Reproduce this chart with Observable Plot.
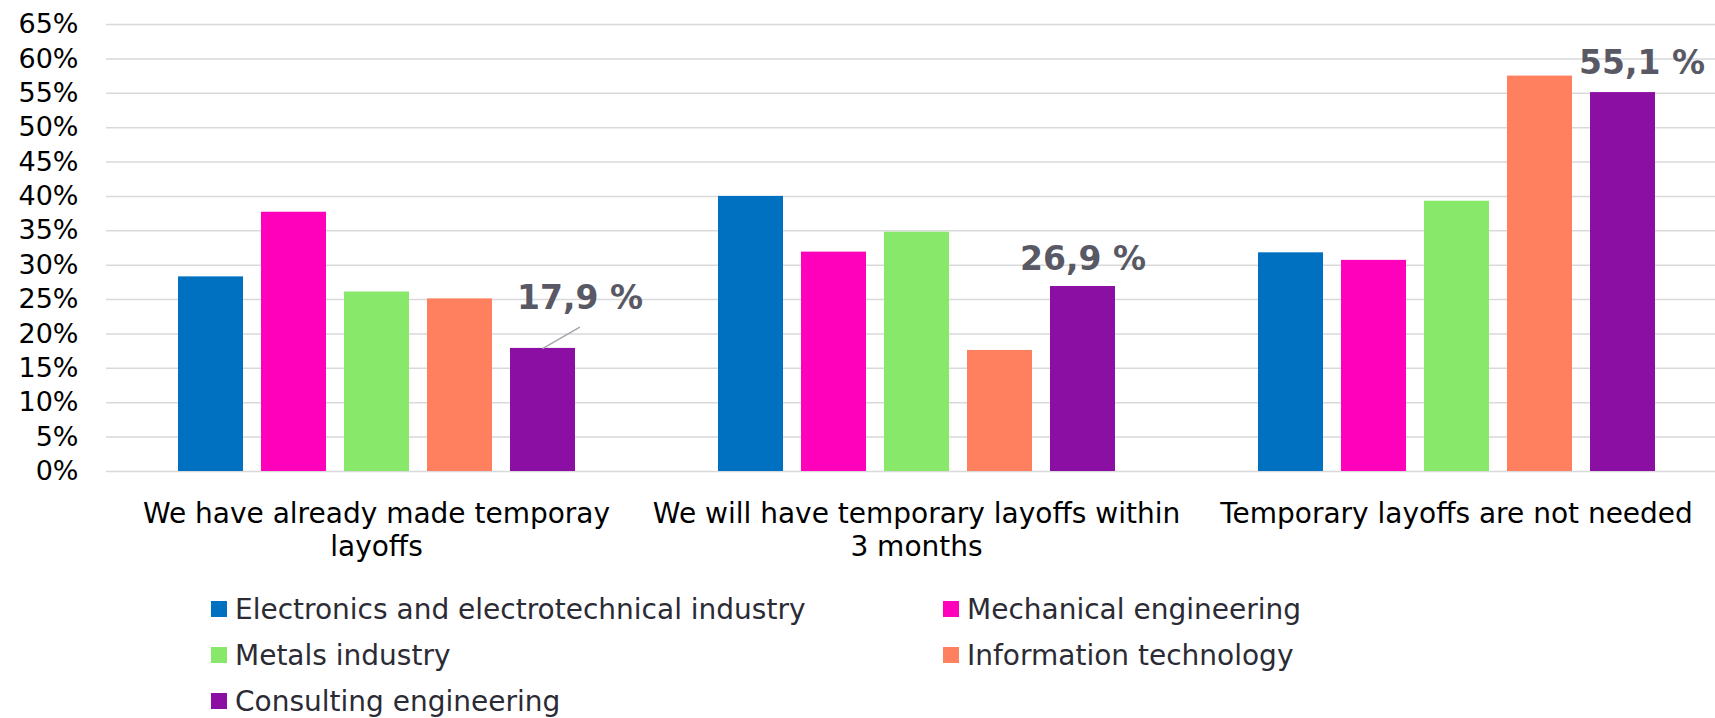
<!DOCTYPE html>
<html>
<head>
<meta charset="utf-8">
<script src="https://cdn.jsdelivr.net/npm/d3@7"></script>
<script src="https://cdn.jsdelivr.net/npm/@observablehq/plot@0.6"></script>
<style>
  html, body { margin: 0; padding: 0; background: #fff; overflow: hidden; }
  #legend { position: relative; width: 1715px; height: 148px; font-family: "DejaVu Sans", Verdana, sans-serif; font-size: 28px; color: #2b2b35; }
  .item { position: absolute; display: flex; align-items: center; height: 46px; white-space: nowrap; }
  .sw { width: 16px; height: 16px; margin-right: 8px; flex: none; }
</style>
</head>
<body>
<div id="chart"></div>
<div id="legend"></div>
<script>
// ---- data ----
const categories = [
  "We have already made temporay layoffs",
  "We will have temporary layoffs within 3 months",
  "Temporary layoffs are not needed"
];
const categoryLabels = [
  "We have already made temporay\nlayoffs",
  "We will have temporary layoffs within\n3 months",
  "Temporary layoffs are not needed"
];
const series = [
  "Electronics and electrotechnical industry",
  "Mechanical engineering",
  "Metals industry",
  "Information technology",
  "Consulting engineering"
];
const colors = ["#0070c0", "#ff00bb", "#88e86a", "#ff805e", "#8b0fa3"];
const electronics = [28.3, 40.0, 31.8];
const mechanical  = [37.7, 31.9, 30.7];
const metals      = [26.1, 34.8, 39.3];
const infotech    = [25.1, 17.6, 57.5];
const consulting  = [17.9, 26.9, 55.1];
const yTicks = [0, 5, 10, 15, 20, 25, 30, 35, 40, 45, 50, 55, 60, 65];

// ---- table ----
const seriesValues = [electronics, mechanical, metals, infotech, consulting];
const rows = [];
categories.forEach((c, ci) => {
  series.forEach((s, si) => rows.push({category: c, series: s, value: seriesValues[si][ci]}));
});
const labelled = rows.filter(d => d.series === "Consulting engineering");
const fmt = d => d.value.toFixed(1).replace(".", ",") + " %";
const labelStyle = {fx: "category", x: "series", y: "value", text: fmt, textAnchor: "middle", lineAnchor: "bottom",
  fontSize: 33, fontWeight: "bold", fill: "#595965"};

const chart = Plot.plot({
  width: 1715,
  height: 570,
  marginTop: 24,
  marginBottom: 99,
  marginLeft: 104,
  marginRight: 0,
  style: {fontFamily: '"DejaVu Sans", Verdana, sans-serif', fontSize: "27px", color: "#000", background: "#fff"},
  fx: {domain: categories, range: [104.3, 1726.7], padding: 0, axis: null, label: null},
  x: {domain: series, paddingInner: 0.2188, paddingOuter: 0.859, axis: null, label: null},
  y: {domain: [0, 65], ticks: yTicks, tickFormat: d => d + "%", tickSize: 0, tickPadding: 28, label: null},
  color: {domain: series, range: colors},
  marks: [
    Plot.ruleY(yTicks, {stroke: "#d9d9dc", strokeWidth: 1.5}),
    Plot.barY(rows, {fx: "category", x: "series", y: "value", fill: "series"}),
    Plot.vector(labelled.filter(d => d.category === categories[0]), {
      fx: "category", x: "series", y: "value", length: 42, rotate: 60, anchor: "start",
      stroke: "#a6a6b0", strokeWidth: 1.5,
      shape: {draw(ctx, l) { ctx.moveTo(0, 0); ctx.lineTo(0, -l); }}
    }),
    Plot.text(labelled.filter(d => d.category === categories[0]), {...labelStyle, dx: 37, dy: -39}),
    Plot.text(labelled.filter(d => d.category === categories[1]), {...labelStyle, dx: 0, dy: -17}),
    Plot.text(labelled.filter(d => d.category === categories[2]), {...labelStyle, dx: 19, dy: -19}),
    Plot.text(categories, {fx: d => d, text: (d, i) => categoryLabels[i], frameAnchor: "bottom",
      lineAnchor: "top", dy: 29, fontSize: 28, lineHeight: 1.15, fill: "#000"})
  ]
});
document.getElementById("chart").appendChild(chart);

// ---- legend ----
const legend = document.getElementById("legend");
series.forEach((s, i) => {
  const col = i % 2, row = Math.floor(i / 2);
  const item = document.createElement("div");
  item.className = "item";
  item.style.left = (col ? 943 : 211) + "px";
  item.style.top = (16 + row * 46) + "px";
  const sw = document.createElement("span");
  sw.className = "sw";
  sw.style.background = colors[i];
  const tx = document.createElement("span");
  tx.textContent = s;
  item.appendChild(sw);
  item.appendChild(tx);
  legend.appendChild(item);
});
</script>
</body>
</html>
